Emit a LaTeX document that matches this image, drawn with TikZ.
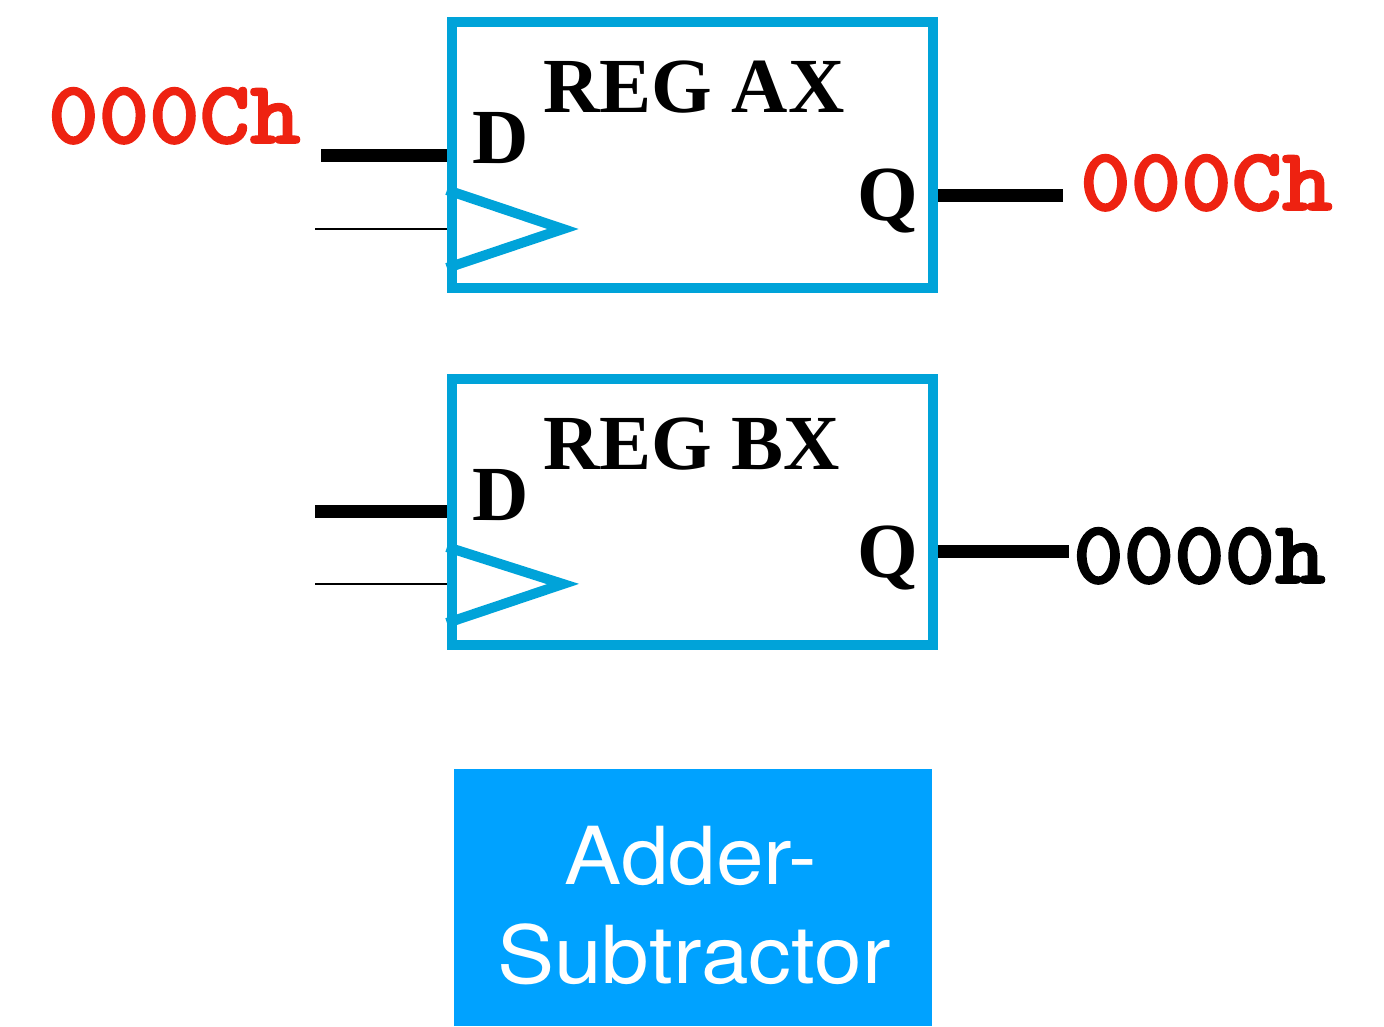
\documentclass[tikz,border=0pt]{standalone}
\usepackage{fontspec}
\setmainfont{Liberation Serif}
\newfontfamily\sansf{TeX Gyre Heros}[FakeStretch=1.07]
\newfontfamily\monof{lmmonolt10-bold}[Extension=.otf,FakeBold=2,FakeStretch=1.08]
\definecolor{regblue}{RGB}{0,163,217}
\definecolor{addblue}{RGB}{0,162,255}
\definecolor{valred}{RGB}{238,34,17}
\begin{document}
\begin{tikzpicture}[x=1pt,y=-1pt,
  regbox/.style={draw=regblue,line width=10pt,minimum width=481pt,minimum height=266pt,inner sep=0pt},
  clk/.style={draw=regblue,line width=10pt,line join=miter},
  bus/.style={line width=13pt},
  wire/.style={line width=2pt},
  regname/.style={anchor=base west,inner sep=0pt,font=\bfseries\fontsize{78}{80}\selectfont},
  pin/.style={anchor=base west,inner sep=0pt,font=\bfseries\fontsize{78}{80}\selectfont},
  val/.style={anchor=base west,inner sep=0pt,font=\monof\fontsize{89}{92}\selectfont},
  addtxt/.style={anchor=base,inner sep=0pt,text=white,font=\sansf\fontsize{80}{99}\selectfont}]
\useasboundingbox (0,0) rectangle (1384,1026);
% REG AX
\node[regbox] (ax) at (692.5,155) {};
\node[regname] (axname) at (543,112) {REG AX};
\node[pin] (axd) at (472,163) {D};
\node[pin] (axq) at (857,220) {Q};
\coordinate (axdin) at (321,155);
\coordinate (axclk) at (315,229);
\coordinate (axqout) at (1063,195);
\draw[bus] (axdin) -- (ax.west |- axdin);
\draw[wire] (axclk) -- (ax.west |- axclk);
\draw[bus] (ax.east |- axqout) -- (axqout);
\draw[clk] (ax.west |- 0,190) -- (563,229) -- (ax.west |- 0,268);
\node[val,text=valred] (axin) at (48,143) {000Ch};
\node[val,text=valred] (axout) at (1080,210) {000Ch};
% REG BX
\node[regbox] (bx) at (692.5,512) {};
\node[regname] (bxname) at (543,469) {REG BX};
\node[pin] (bxd) at (472,520) {D};
\node[pin] (bxq) at (857,577) {Q};
\coordinate (bxdin) at (315,511);
\coordinate (bxclk) at (315,584);
\coordinate (bxqout) at (1069,551);
\draw[bus] (bxdin) -- (bx.west |- bxdin);
\draw[wire] (bxclk) -- (bx.west |- bxclk);
\draw[bus] (bx.east |- bxqout) -- (bxqout);
\draw[clk] (bx.west |- 0,547) -- (563,584) -- (bx.west |- 0,623);
\node[val,text=black] (bxout) at (1073,583) {0000h};
% Adder-Subtractor
\node[fill=addblue,minimum width=478pt,minimum height=257pt,inner sep=0pt] (adder) at (693,897.5) {};
\node[addtxt] (adder1) at (691,884) {Adder-};
\node[addtxt] (adder2) at (694,983) {Subtractor};
\end{tikzpicture}
\end{document}
